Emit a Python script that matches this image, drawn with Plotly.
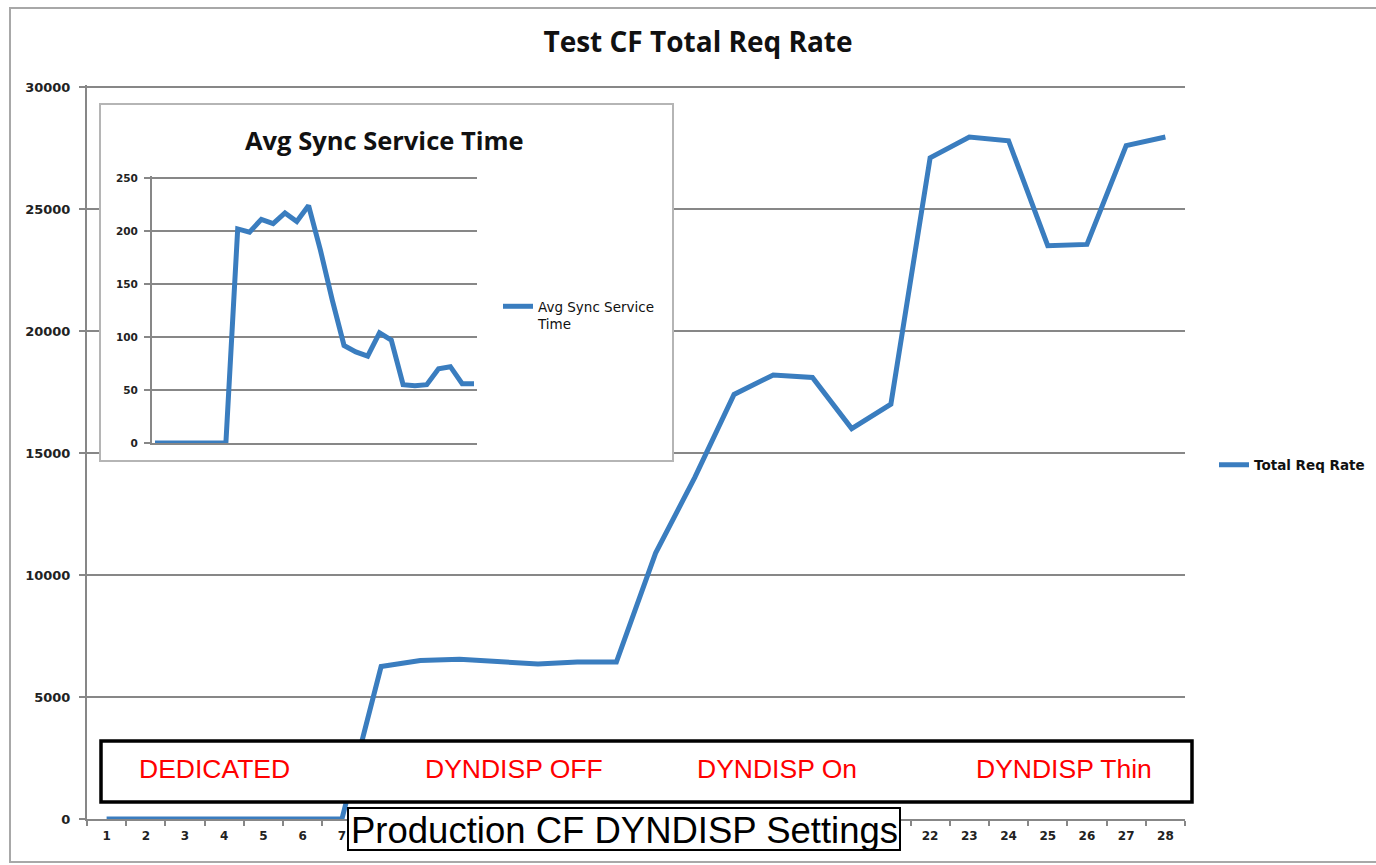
import plotly.graph_objects as go

# ---------------- data ----------------
x_labels = ["1", "2", "3", "4", "5", "6", "7", "8", "9", "10", "11", "12", "13", "14",
            "15", "16", "17", "18", "19", "20", "21", "22", "23", "24", "25", "26", "27", "28"]
# labels 8-21 are hidden behind the settings caption in the original chart
shown_x_labels = ["1", "2", "3", "4", "5", "6", "7", "", "", "", "", "", "", "",
                  "", "", "", "", "", "", "", "22", "23", "24", "25", "26", "27", "28"]
total_req_rate = [0, 0, 0, 0, 0, 0, 0, 6250, 6500, 6550, 6430, 6350, 6430, 6430,
                  10900, 14000, 17400, 18200, 18100, 16000, 17000, 27100, 27950, 27800,
                  23500, 23550, 27600, 27950]
inset_x = [1, 2, 3, 4, 5, 6, 7, 8, 9, 10, 11, 12, 13, 14,
           15, 16, 17, 18, 19, 20, 21, 22, 23, 24, 25, 26, 27, 28]
avg_sync_service_time = [0, 0, 0, 0, 0, 0, 0, 202, 199, 211, 207, 217, 209, 224,
                         182, 135, 92, 86, 82, 104, 97, 55, 54, 55, 70, 72, 56, 56]
main_y_ticks = [0, 5000, 10000, 15000, 20000, 25000, 30000]
inset_y_ticks = [0, 50, 100, 150, 200, 250]
setting_labels = ["DEDICATED", "DYNDISP OFF", "DYNDISP On", "DYNDISP Thin"]

# ---------------- layout helpers (pixel -> paper) ----------------
W, H = 1376, 865
def px(x):
    return x / W
def py(y):
    return 1 - y / H

LINE_BLUE = "#3A7DBF"
GRID = "#878787"

fig = go.Figure()

fig.add_trace(go.Scatter(
    x=x_labels, y=total_req_rate, mode="lines", name="Total Req Rate",
    line=dict(color=LINE_BLUE, width=5), xaxis="x", yaxis="y", legend="legend",
))
# empty trace so the inset frame subplot gets created (white background + border)
fig.add_trace(go.Scatter(
    x=[None], y=[None], mode="lines", showlegend=False, hoverinfo="skip",
    xaxis="x2", yaxis="y2",
))
fig.add_trace(go.Scatter(
    x=inset_x, y=avg_sync_service_time, mode="lines", name="Avg Sync Service<br>Time",
    line=dict(color=LINE_BLUE, width=5), xaxis="x3", yaxis="y3", legend="legend2",
))

# main axes
fig.update_layout(
    xaxis=dict(
        type="category", domain=[px(87), px(1185)], range=[-0.5, 27.5],
        tickmode="array", tickvals=x_labels, ticktext=shown_x_labels,
        showgrid=False, showline=True, linecolor=GRID, linewidth=2,
        ticks="outside", tickson="boundaries", ticklen=5, tickwidth=2, tickcolor=GRID,
        tickfont=dict(family="DejaVu Sans", size=12, color="#222222", weight="bold"),
        ticklabelstandoff=5, anchor="y", fixedrange=True,
    ),
    yaxis=dict(
        domain=[py(819), py(84.6)], range=[0, 30100],
        tickvals=main_y_ticks, tickformat="d", showgrid=True, gridcolor=GRID, gridwidth=2,
        showline=True, linecolor=GRID, linewidth=2, zeroline=False,
        ticks="outside", ticklen=6, tickwidth=2, tickcolor=GRID,
        tickfont=dict(family="DejaVu Sans", size=13, color="#222222", weight="bold"),
        ticklabelstandoff=6, anchor="x", fixedrange=True,
    ),
    # inset frame subplot
    xaxis2=dict(domain=[px(101), px(672)], range=[0, 1], showgrid=False, zeroline=False,
                showticklabels=False, ticks="", showline=True, mirror=True,
                linecolor="#B5B5B5", linewidth=2, anchor="y2", fixedrange=True),
    yaxis2=dict(domain=[py(460), py(105)], range=[0, 1], showgrid=False, zeroline=False,
                showticklabels=False, ticks="", showline=True, mirror=True,
                linecolor="#B5B5B5", linewidth=2, anchor="x2", fixedrange=True),
    # inset data subplot
    xaxis3=dict(domain=[px(152), px(477)], range=[0.746, 28.254], showgrid=False,
                zeroline=False, showticklabels=False, ticks="", showline=True,
                linecolor=GRID, linewidth=2, anchor="y3", fixedrange=True),
    yaxis3=dict(domain=[py(443), py(175.9)], range=[0, 252], tickvals=inset_y_ticks,
                showgrid=True, gridcolor=GRID, gridwidth=2, zeroline=False,
                showline=True, linecolor=GRID, linewidth=2,
                ticks="outside", ticklen=6, tickwidth=2, tickcolor=GRID,
                tickfont=dict(family="DejaVu Sans", size=10.5, color="#222222", weight="bold"),
                ticklabelstandoff=4, anchor="x3", fixedrange=True),
)

fig.update_layout(
    width=W, height=H, margin=dict(l=0, r=0, t=0, b=0, autoexpand=False),
    paper_bgcolor="white", plot_bgcolor="white",
    title=dict(text="<b>Test CF Total Req Rate</b>", x=px(698), y=py(42),
               xanchor="center", yanchor="middle",
               font=dict(family="Open Sans", size=28, color="#111111")),
    legend=dict(x=px(1214), y=py(465), xanchor="left", yanchor="middle",
                bgcolor="rgba(0,0,0,0)", borderwidth=0,
                font=dict(family="DejaVu Sans", size=13.5, color="#111111", weight="bold")),
    legend2=dict(x=px(498), y=py(291), xanchor="left", yanchor="top", valign="top",
                 bgcolor="rgba(0,0,0,0)", borderwidth=0,
                 font=dict(family="DejaVu Sans", size=13.5, color="#111111")),
    showlegend=True,
)

# inset title
fig.add_annotation(text="<b>Avg Sync Service Time</b>", x=px(384), y=py(140),
                   xref="paper", yref="paper", showarrow=False,
                   xanchor="center", yanchor="middle",
                   font=dict(family="Open Sans", size=25.5, color="#111111"))

# outer chart border
fig.add_shape(type="rect", xref="paper", yref="paper",
              x0=px(10), x1=px(1390), y0=py(862), y1=py(8),
              line=dict(color="#A8A8A8", width=2), layer="below")

# settings box
fig.add_shape(type="rect", xref="paper", yref="paper",
              x0=px(101), x1=px(1192), y0=py(802), y1=py(741),
              line=dict(color="black", width=3.5), fillcolor="white", layer="above")
label_centers = [214, 514, 777, 1064]
for lab, cx in zip(setting_labels, label_centers):
    fig.add_annotation(text=lab, x=px(cx), y=py(769), xref="paper", yref="paper",
                       showarrow=False, xanchor="center", yanchor="middle",
                       font=dict(family="Liberation Sans", size=26.5, color="#FF0000"))

# production box
fig.add_shape(type="rect", xref="paper", yref="paper",
              x0=px(348), x1=px(900), y0=py(850), y1=py(808),
              line=dict(color="black", width=2), fillcolor="white", layer="above")
fig.add_annotation(text="Production CF DYNDISP Settings", x=px(624), y=py(830),
                   xref="paper", yref="paper", showarrow=False,
                   xanchor="center", yanchor="middle",
                   font=dict(family="Liberation Sans", size=36.5, color="black"))

fig.write_html("out.html", config={"displayModeBar": False},
               post_script="document.body.style.margin='0px';document.body.style.overflow='hidden';")
